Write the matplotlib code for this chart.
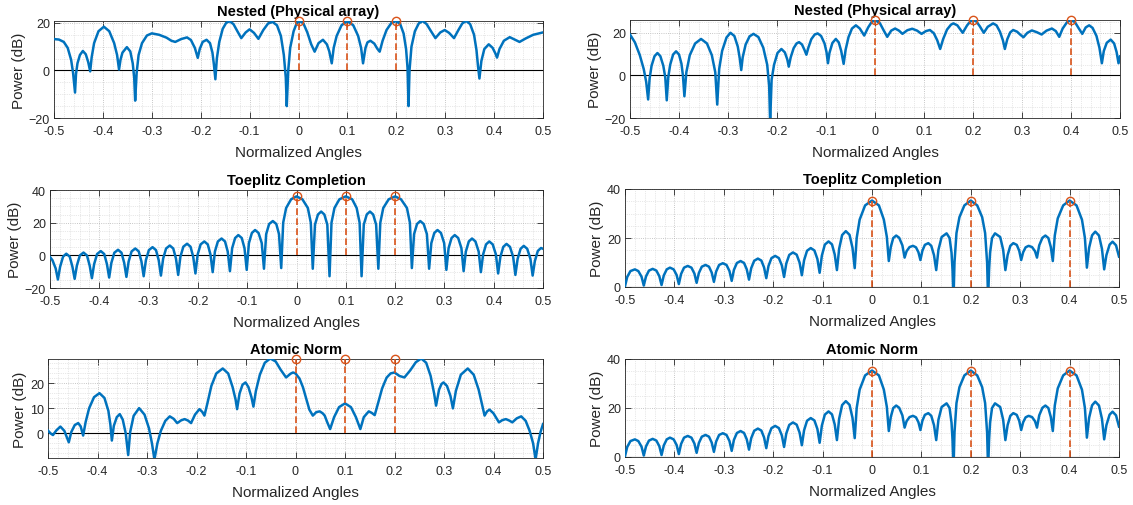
import matplotlib
matplotlib.use("Agg")
import matplotlib.pyplot as plt
from matplotlib.ticker import MultipleLocator

plt.rcParams['font.family'] = ['Liberation Sans', 'DejaVu Sans']

BLUE = '#0072BD'
ORANGE = '#D95319'

# spectra (normalized angle, power in dB)
nested_left = [
    (-0.500, 13.2), (-0.490, 13.0), (-0.480, 12.0), (-0.472, 9.5), (-0.465, 4.5), (-0.461, -1.0), (-0.457, -9.3),
    (-0.455, -1.5), (-0.452, 3.0), (-0.447, 6.5), (-0.441, 8.2), (-0.435, 6.8), (-0.430, 3.5), (-0.426, -0.4),
    (-0.423, 5.5), (-0.418, 11.5), (-0.409, 16.5), (-0.398, 18.4), (-0.387, 16.5), (-0.377, 11.5), (-0.371, 6.5), (-0.367, 0.4),
    (-0.364, 4.5), (-0.360, 7.5), (-0.351, 9.8), (-0.344, 8.0), (-0.339, 3.0), (-0.336, -3.0), (-0.334, -12.7),
    (-0.331, -1.0), (-0.327, 6.5), (-0.320, 11.5), (-0.310, 14.7), (-0.300, 15.6), (-0.285, 15.0), (-0.270, 13.8),
    (-0.260, 12.5), (-0.252, 12.0), (-0.240, 13.2), (-0.228, 13.9), (-0.220, 12.8), (-0.212, 9.5), (-0.206, 5.3),
    (-0.202, 9.0), (-0.196, 12.0), (-0.188, 12.9), (-0.181, 11.5), (-0.176, 7.5), (-0.173, 2.5), (-0.170, -3.7),
    (-0.167, 5.0), (-0.162, 12.0), (-0.155, 17.5), (-0.148, 20.0), (-0.141, 20.7), (-0.133, 19.5), (-0.125, 16.5),
    (-0.117, 13.6), (-0.108, 16.0), (-0.100, 17.3), (-0.091, 15.8), (-0.082, 13.3), (-0.072, 17.0), (-0.062, 19.8),
    (-0.053, 20.4), (-0.044, 19.0), (-0.036, 14.5), (-0.030, 6.5), (-0.026, -3.0), (-0.024, -15.0),
    (-0.021, 0.0), (-0.017, 9.5), (-0.010, 16.5), (-0.004, 19.7), (0.002, 20.8), (0.010, 19.8), (0.018, 16.0),
    (0.026, 11.0), (0.033, 7.9), (0.041, 11.5), (0.050, 12.9), (0.058, 11.0), (0.063, 8.0), (0.068, 3.0),
    (0.072, 9.5), (0.078, 14.5), (0.088, 19.0), (0.100, 20.8), (0.112, 19.0), (0.122, 14.5), (0.128, 9.5), (0.132, 3.0),
    (0.137, 9.5), (0.141, 11.8), (0.147, 12.5), (0.155, 11.3), (0.161, 9.2), (0.166, 7.9),
    (0.172, 12.5), (0.180, 17.0), (0.190, 20.0), (0.200, 20.8), (0.208, 19.5), (0.215, 15.5), (0.220, 9.0), (0.223, 1.0), (0.225, -15.0),
    (0.227, 0.0), (0.231, 10.0), (0.238, 16.5), (0.246, 19.8), (0.254, 20.8), (0.262, 19.5), (0.271, 16.5),
    (0.280, 13.6), (0.290, 16.0), (0.299, 17.0), (0.308, 15.8), (0.318, 13.6), (0.327, 17.0), (0.335, 19.8),
    (0.343, 20.8), (0.351, 19.5), (0.359, 15.0), (0.364, 8.5), (0.367, 2.0), (0.370, -3.4),
    (0.374, 4.0), (0.380, 9.0), (0.389, 11.0), (0.397, 9.5), (0.403, 7.0), (0.406, 5.4), (0.411, 9.0),
    (0.420, 12.5), (0.432, 14.0), (0.442, 13.0), (0.452, 12.0), (0.465, 13.5), (0.480, 15.0), (0.500, 16.0),
]

nested_right = [
    (-0.500, 19.2), (-0.490, 15.5), (-0.480, 9.5), (-0.472, 3.0), (-0.467, -3.0), (-0.463, -11.3),
    (-0.460, -1.5), (-0.456, 4.5), (-0.450, 9.0), (-0.444, 10.5), (-0.438, 9.0), (-0.432, 4.5), (-0.428, -1.0), (-0.425, -11.7),
    (-0.422, -1.0), (-0.418, 5.0), (-0.412, 9.8), (-0.406, 11.3), (-0.400, 9.8), (-0.395, 5.5), (-0.392, 0.0), (-0.389, -9.8),
    (-0.385, 1.5), (-0.378, 9.5), (-0.367, 15.0), (-0.355, 17.1), (-0.343, 15.0), (-0.333, 9.5), (-0.326, 1.5), (-0.322, -13.7),
    (-0.318, 3.0), (-0.312, 11.5), (-0.303, 17.8), (-0.295, 20.0), (-0.287, 18.5), (-0.280, 13.5), (-0.276, 8.0), (-0.273, 2.5),
    (-0.270, 8.5), (-0.264, 14.5), (-0.256, 18.3), (-0.248, 19.5), (-0.238, 18.0), (-0.228, 13.0), (-0.220, 5.0),
    (-0.216, -5.0), (-0.214, -22.0),
    (-0.211, -2.0), (-0.206, 5.0), (-0.199, 10.5), (-0.191, 12.4), (-0.184, 10.8), (-0.179, 7.5), (-0.176, 4.1),
    (-0.172, 8.5), (-0.166, 12.8), (-0.160, 15.0), (-0.155, 15.6), (-0.149, 14.5), (-0.144, 12.0), (-0.140, 9.7),
    (-0.136, 13.0), (-0.130, 17.0), (-0.123, 19.2), (-0.117, 19.7), (-0.110, 18.5), (-0.103, 15.0), (-0.099, 11.0), (-0.096, 5.7),
    (-0.093, 10.5), (-0.087, 15.2), (-0.080, 17.1), (-0.074, 15.5), (-0.069, 11.5), (-0.066, 8.0), (-0.064, 5.4),
    (-0.060, 12.0), (-0.054, 18.0), (-0.047, 22.0), (-0.039, 23.5), (-0.031, 22.0), (-0.022, 18.7),
    (-0.014, 22.5), (-0.007, 25.0), (0.000, 26.0), (0.010, 24.5), (0.018, 21.0), (0.025, 18.1),
    (0.033, 21.0), (0.041, 22.0), (0.049, 21.0), (0.056, 19.5), (0.066, 21.2), (0.076, 21.9), (0.086, 21.0), (0.095, 19.5),
    (0.104, 20.8), (0.112, 21.3), (0.120, 19.8), (0.127, 16.5), (0.133, 12.4), (0.139, 17.0), (0.147, 21.5),
    (0.155, 23.8), (0.160, 24.4), (0.168, 23.5), (0.179, 20.0),
    (0.188, 23.5), (0.195, 25.4), (0.200, 26.0), (0.207, 25.3), (0.214, 23.0), (0.222, 20.0),
    (0.230, 22.8), (0.241, 24.4), (0.248, 23.5), (0.255, 20.5), (0.261, 16.5), (0.265, 12.4),
    (0.270, 17.0), (0.276, 20.2), (0.282, 21.3), (0.290, 20.5), (0.297, 19.0), (0.303, 17.9),
    (0.311, 20.0), (0.320, 21.1), (0.330, 20.3), (0.340, 19.2), (0.350, 21.0), (0.361, 22.0), (0.369, 20.8), (0.376, 18.1),
    (0.383, 22.0), (0.392, 25.0), (0.400, 26.0), (0.408, 25.0), (0.416, 22.0), (0.423, 19.5), (0.430, 22.5),
    (0.437, 23.5), (0.444, 22.3), (0.452, 18.5), (0.458, 13.0), (0.463, 5.7),
    (0.467, 11.5), (0.473, 15.3), (0.481, 16.8), (0.488, 15.0), (0.493, 11.0), (0.497, 5.7), (0.500, 8.9),
]

toeplitz_left = [
    (-0.500, -1.0), (-0.495, -3.0), (-0.4885, -8.0), (-0.484, -14.8),
    (-0.4795, -7.0), (-0.4735, -0.8), (-0.467, 1.0), (-0.460, -0.8), (-0.4545, -7.0), (-0.450, -14.4),
    (-0.4455, -6.3), (-0.4395, -0.1), (-0.432, 1.7), (-0.425, -0.1), (-0.4195, -6.3), (-0.415, -14.0),
    (-0.4105, -5.4), (-0.4045, 0.8), (-0.397, 2.6), (-0.390, 0.8), (-0.3845, -5.4), (-0.380, -13.6),
    (-0.3755, -4.6), (-0.3695, 1.6), (-0.362, 3.4), (-0.355, 1.6), (-0.3495, -4.6), (-0.345, -13.2),
    (-0.3405, -3.8), (-0.3345, 2.4), (-0.327, 4.2), (-0.320, 2.4), (-0.3145, -3.8), (-0.310, -12.8),
    (-0.3055, -3.0), (-0.2995, 3.2), (-0.292, 5.0), (-0.285, 3.2), (-0.2795, -3.0), (-0.275, -12.4),
    (-0.2705, -2.0), (-0.2645, 4.2), (-0.257, 6.0), (-0.250, 4.2), (-0.2445, -2.0), (-0.240, -12.0),
    (-0.2355, -0.9), (-0.2295, 5.3), (-0.222, 7.1), (-0.215, 5.3), (-0.2095, -0.9), (-0.205, -11.1),
    (-0.2005, 0.5), (-0.1945, 6.7), (-0.187, 8.5), (-0.180, 6.7), (-0.1745, 0.5), (-0.170, -10.3),
    (-0.1655, 2.3), (-0.1595, 8.5), (-0.152, 10.3), (-0.145, 8.5), (-0.1395, 2.3), (-0.135, -9.7),
    (-0.1305, 4.4), (-0.1245, 10.6), (-0.118, 12.4), (-0.111, 10.6), (-0.1055, 4.4), (-0.101, -8.9),
    (-0.0965, 7.5), (-0.0905, 13.7), (-0.084, 15.5), (-0.077, 13.7), (-0.0705, 7.5), (-0.066, -8.2),
    (-0.0615, 13.0), (-0.0555, 19.2), (-0.048, 21.0), (-0.041, 19.2), (-0.0355, 13.0), (-0.031, -7.8),
    (-0.027, 20.0), (-0.021, 29.0), (-0.011, 34.3), (0.000, 36.1), (0.012, 34.3), (0.023, 29.0), (0.029, 20.0), (0.033, -8.2),
    (0.0375, 18.8), (0.0435, 25.0), (0.050, 26.8), (0.0565, 25.0), (0.0625, 18.8), (0.067, -12.8),
    (0.071, 20.0), (0.077, 29.0), (0.087, 34.3), (0.100, 36.1), (0.113, 34.3), (0.122, 29.0), (0.128, 20.0), (0.132, -12.8),
    (0.1365, 18.8), (0.1425, 25.0), (0.149, 26.8), (0.1555, 25.0), (0.1615, 18.8), (0.166, -8.2),
    (0.170, 20.0), (0.176, 29.0), (0.187, 34.3), (0.200, 36.1), (0.212, 34.3), (0.224, 29.0), (0.230, 20.0), (0.234, -7.8),
    (0.2385, 13.0), (0.2445, 19.2), (0.251, 21.0), (0.258, 19.2), (0.2645, 13.0), (0.269, -8.2),
    (0.2735, 7.5), (0.2795, 13.7), (0.286, 15.5), (0.293, 13.7), (0.2995, 7.5), (0.304, -8.9),
    (0.3085, 4.4), (0.3145, 10.6), (0.321, 12.4), (0.328, 10.6), (0.3345, 4.4), (0.339, -9.7),
    (0.3435, 2.3), (0.3495, 8.5), (0.356, 10.3), (0.363, 8.5), (0.3695, 2.3), (0.374, -10.3),
    (0.3785, 0.5), (0.3845, 6.7), (0.391, 8.5), (0.398, 6.7), (0.4045, 0.5), (0.409, -11.1),
    (0.4135, -1.0), (0.4195, 5.2), (0.426, 7.0), (0.433, 5.2), (0.4395, -1.0), (0.444, -12.0),
    (0.4485, -2.2), (0.4545, 4.0), (0.461, 5.8), (0.468, 4.0), (0.4745, -2.2), (0.479, -12.4),
    (0.4835, -3.5), (0.4895, 2.7), (0.496, 4.5), (0.500, 4.0),
]

toeplitz_right = [
    (-0.500, 0.3), (-0.4955, 4.1), (-0.489, 6.5), (-0.480, 7.2), (-0.473, 6.5), (-0.4665, 4.2), (-0.462, 0.6),
    (-0.4575, 4.3), (-0.4515, 6.7), (-0.444, 7.4), (-0.4365, 6.7), (-0.4305, 4.4), (-0.426, 0.8),
    (-0.4215, 4.7), (-0.4155, 7.2), (-0.409, 7.9), (-0.4015, 7.2), (-0.3955, 4.9), (-0.391, 1.2),
    (-0.3865, 5.3), (-0.3805, 7.9), (-0.373, 8.6), (-0.3655, 7.9), (-0.3595, 5.5), (-0.355, 1.7),
    (-0.3505, 5.7), (-0.3445, 8.3), (-0.337, 9.0), (-0.330, 8.3), (-0.3245, 5.9), (-0.320, 2.1),
    (-0.3155, 6.3), (-0.3095, 9.0), (-0.302, 9.7), (-0.2945, 9.0), (-0.2885, 6.5), (-0.284, 2.5),
    (-0.2795, 7.0), (-0.2735, 9.8), (-0.266, 10.6), (-0.259, 9.8), (-0.2535, 7.2), (-0.249, 3.0),
    (-0.2445, 7.7), (-0.2385, 10.7), (-0.231, 11.6), (-0.224, 10.8), (-0.2185, 8.0), (-0.214, 3.6),
    (-0.2095, 8.6), (-0.2035, 11.8), (-0.196, 12.7), (-0.1885, 11.8), (-0.1825, 8.8), (-0.178, 4.1),
    (-0.1735, 9.6), (-0.1675, 13.1), (-0.160, 14.1), (-0.1525, 13.2), (-0.1465, 9.9), (-0.142, 4.8),
    (-0.1375, 10.9), (-0.1315, 14.8), (-0.124, 15.9), (-0.1165, 14.9), (-0.1105, 11.4), (-0.106, 5.8),
    (-0.1015, 12.8), (-0.0955, 17.3), (-0.088, 18.6), (-0.081, 17.4), (-0.0755, 13.3), (-0.071, 6.9),
    (-0.0665, 15.6), (-0.0605, 21.2), (-0.053, 22.8), (-0.0455, 21.3), (-0.0395, 16.0), (-0.035, 7.7),
    (-0.031, 20.0), (-0.025, 27.5), (-0.014, 33.3), (0.000, 35.3), (0.014, 33.3), (0.024, 27.5), (0.030, 20.5), (0.034, 10.6),
    (0.038, 16.3), (0.043, 20.0), (0.049, 21.0), (0.055, 20.1), (0.0615, 17.0), (0.066, 12.0),
    (0.070, 14.6), (0.076, 16.3), (0.083, 16.8), (0.089, 16.2), (0.094, 14.2), (0.098, 11.0),
    (0.102, 14.8), (0.107, 17.2), (0.114, 17.9), (0.120, 16.8), (0.1255, 13.0), (0.130, 6.9),
    (0.1345, 15.2), (0.141, 20.4), (0.151, 21.9), (0.157, 20.0), (0.161, 14.0), (0.163, 7.0), (0.165, -5.0),
    (0.167, 10.0), (0.171, 22.0), (0.177, 28.5), (0.187, 33.3), (0.200, 35.3), (0.213, 33.3), (0.223, 28.5),
    (0.229, 22.0), (0.233, 10.0), (0.235, -5.0),
    (0.237, 7.0), (0.239, 14.0), (0.243, 20.0), (0.249, 21.9), (0.2595, 20.4), (0.2655, 15.2), (0.270, 6.9),
    (0.2745, 13.0), (0.280, 16.8), (0.286, 17.9), (0.293, 17.2), (0.298, 14.8), (0.302, 11.0),
    (0.306, 14.2), (0.311, 16.2), (0.317, 16.8), (0.324, 16.3), (0.330, 14.6), (0.334, 12.0),
    (0.3385, 17.0), (0.345, 20.1), (0.351, 21.0), (0.357, 20.0), (0.362, 16.3), (0.366, 10.6),
    (0.370, 21.0), (0.376, 28.0), (0.387, 33.3), (0.400, 35.3), (0.414, 33.3), (0.425, 27.5), (0.431, 20.0), (0.435, 7.9),
    (0.4395, 16.0), (0.4455, 21.1), (0.452, 22.6), (0.4595, 21.0), (0.4655, 15.6), (0.470, 7.2),
    (0.4745, 13.0), (0.481, 17.3), (0.487, 18.5), (0.494, 17.0), (0.500, 12.4),
]

atomic_left = [
    (-0.500, 1.1), (-0.495, 0.0), (-0.490, -0.7), (-0.483, 1.2), (-0.475, 2.7), (-0.467, 1.0), (-0.462, -1.5),
    (-0.458, -3.6), (-0.453, 0.5), (-0.446, 3.3), (-0.439, 4.1), (-0.434, 2.8), (-0.429, -0.9), (-0.424, 4.5),
    (-0.417, 10.0), (-0.407, 14.5), (-0.396, 16.1), (-0.386, 14.2), (-0.378, 9.0), (-0.374, 3.5), (-0.371, -2.9),
    (-0.367, 3.0), (-0.361, 6.5), (-0.355, 7.7), (-0.349, 5.5), (-0.343, 0.0), (-0.338, -8.7), (-0.334, 0.5),
    (-0.327, 7.0), (-0.316, 10.1), (-0.305, 7.5), (-0.296, 2.0), (-0.290, -4.0), (-0.285, -10.5), (-0.279, -4.0),
    (-0.272, 1.0), (-0.263, 5.0), (-0.254, 6.8), (-0.246, 5.8), (-0.239, 4.1), (-0.231, 5.2), (-0.224, 5.7),
    (-0.217, 5.1), (-0.211, 4.1), (-0.203, 7.5), (-0.194, 9.7), (-0.188, 8.5), (-0.184, 7.1), (-0.178, 12.0),
    (-0.170, 19.0), (-0.160, 24.0), (-0.147, 26.0), (-0.136, 24.0), (-0.127, 18.5), (-0.121, 13.5), (-0.118, 9.7),
    (-0.113, 16.0), (-0.107, 19.5), (-0.101, 20.4), (-0.095, 18.5), (-0.089, 14.5), (-0.085, 10.7), (-0.080, 17.0),
    (-0.072, 23.5), (-0.062, 28.3), (-0.051, 30.0), (-0.040, 28.8), (-0.030, 25.5), (-0.019, 22.4), (-0.010, 23.9),
    (-0.005, 24.4), (0.000, 24.0), (0.008, 22.0), (0.015, 18.5), (0.022, 13.7), (0.028, 9.5), (0.035, 7.1),
    (0.042, 8.5), (0.049, 8.8), (0.055, 8.0), (0.059, 7.1), (0.064, 4.5), (0.070, 1.7), (0.078, 6.5),
    (0.088, 10.5), (0.100, 12.0), (0.112, 10.5), (0.122, 6.5), (0.131, 1.7), (0.138, 6.5), (0.148, 8.8),
    (0.154, 8.2), (0.160, 7.3), (0.166, 11.5), (0.175, 18.0), (0.184, 22.3), (0.192, 24.0), (0.200, 24.4),
    (0.210, 23.0), (0.220, 22.4), (0.232, 25.3), (0.243, 28.5), (0.254, 30.0), (0.264, 28.3), (0.273, 23.0),
    (0.280, 16.0), (0.284, 11.1), (0.290, 17.5), (0.295, 19.8), (0.299, 20.4), (0.306, 19.0), (0.313, 15.0),
    (0.318, 10.0), (0.324, 17.0), (0.334, 23.5), (0.348, 26.0), (0.360, 23.5), (0.370, 17.5), (0.377, 11.5),
    (0.382, 7.1), (0.387, 8.8), (0.392, 9.5), (0.400, 8.0), (0.411, 4.4), (0.418, 5.3), (0.425, 5.7),
    (0.432, 5.1), (0.438, 4.4), (0.447, 6.0), (0.456, 6.8), (0.465, 5.0), (0.473, 1.0), (0.480, -4.0),
    (0.485, -10.5), (0.490, -4.0), (0.495, 0.5), (0.500, 3.7),
]

# atomic norm on the right gives the same spectrum as Toeplitz completion
atomic_right = list(toeplitz_right)

true_angles_left = [0.0, 0.1, 0.2]
true_angles_right = [0.0, 0.2, 0.4]

x_ticks = [-0.5, -0.4, -0.3, -0.2, -0.1, 0, 0.1, 0.2, 0.3, 0.4, 0.5]
x_tick_labels = ['-0.5', '-0.4', '-0.3', '-0.2', '-0.1', '0', '0.1', '0.2', '0.3', '0.4', '0.5']

titles = ['Nested (Physical array)', 'Nested (Physical array)',
          'Toeplitz Completion', 'Toeplitz Completion',
          'Atomic Norm', 'Atomic Norm']

# (points, angles, stem height, ylim, yticks, minor step, pixel box l, t, r, b)
panels = [
    (nested_left, true_angles_left, 20.8, (-20, 20.8), [-20, 0, 20], 5, (54, 22, 543, 119)),
    (nested_right, true_angles_right, 26.0, (-20, 26.0), [-20, 0, 20], 5, (630, 21, 1120, 119)),
    (toeplitz_left, true_angles_left, 36.1, (-20, 40), [-20, 0, 20, 40], 5, (50, 191, 543, 289)),
    (toeplitz_right, true_angles_right, 35.3, (0, 40), [0, 20, 40], 5, (625, 190, 1119, 288)),
    (atomic_left, true_angles_left, 29.8, (-9.9, 29.8), [0, 10, 20], 2, (48, 360, 543, 459)),
    (atomic_right, true_angles_right, 35.3, (0, 40), [0, 20, 40], 5, (625, 360, 1119, 458)),
]

W, H = 1133, 506
fig = plt.figure(figsize=(W / 100, H / 100), dpi=100)
fig.patch.set_facecolor('white')

for (pts, angles, top, ylim, yticks, ystep, box), title in zip(panels, titles):
    l, t, r, b = box
    ax = fig.add_axes([l / W, 1 - b / H, (r - l) / W, (b - t) / H])
    xs, ys = zip(*pts)

    ax.grid(True, which='major', ls=':', color='#b4b4b4', lw=0.6)
    ax.grid(True, which='minor', ls=':', color='#d2d2d2', lw=0.5)
    ax.set_axisbelow(True)

    ax.axhline(0, color='black', lw=0.8, zorder=2)
    ax.plot(xs, ys, color=BLUE, lw=1.8, zorder=3, solid_joinstyle='round')
    ax.vlines(angles, 0, top, colors=ORANGE, linestyles=(0, (4, 2)), lw=1.2, zorder=4)
    ax.plot(angles, [top] * len(angles), 'o', mfc='none', mec=ORANGE, ms=6, mew=1.0,
            zorder=5, clip_on=False)

    ax.set_xlim(-0.5, 0.5)
    ax.set_ylim(*ylim)
    ax.set_xticks(x_ticks)
    ax.set_xticklabels(x_tick_labels)
    ax.set_yticks(yticks)
    ax.xaxis.set_minor_locator(MultipleLocator(0.02))
    ax.yaxis.set_minor_locator(MultipleLocator(ystep))

    ax.tick_params(which='major', direction='in', top=True, right=True, length=4,
                   width=0.6, labelsize=9, colors='#262626')
    ax.tick_params(axis='x', which='major', pad=5)
    ax.tick_params(axis='y', which='major', pad=3)
    ax.tick_params(which='minor', length=0)
    for s in ax.spines.values():
        s.set_color('#262626')
        s.set_linewidth(0.6)

    ax.set_title(title, fontsize=10.5, fontweight='bold', pad=4)
    ax.set_xlabel('Normalized Angles', fontsize=11, labelpad=6, color='#262626')
    ax.set_ylabel('Power (dB)', fontsize=11, labelpad=2, color='#262626')

fig.savefig('out.png', dpi=100, facecolor='white')
